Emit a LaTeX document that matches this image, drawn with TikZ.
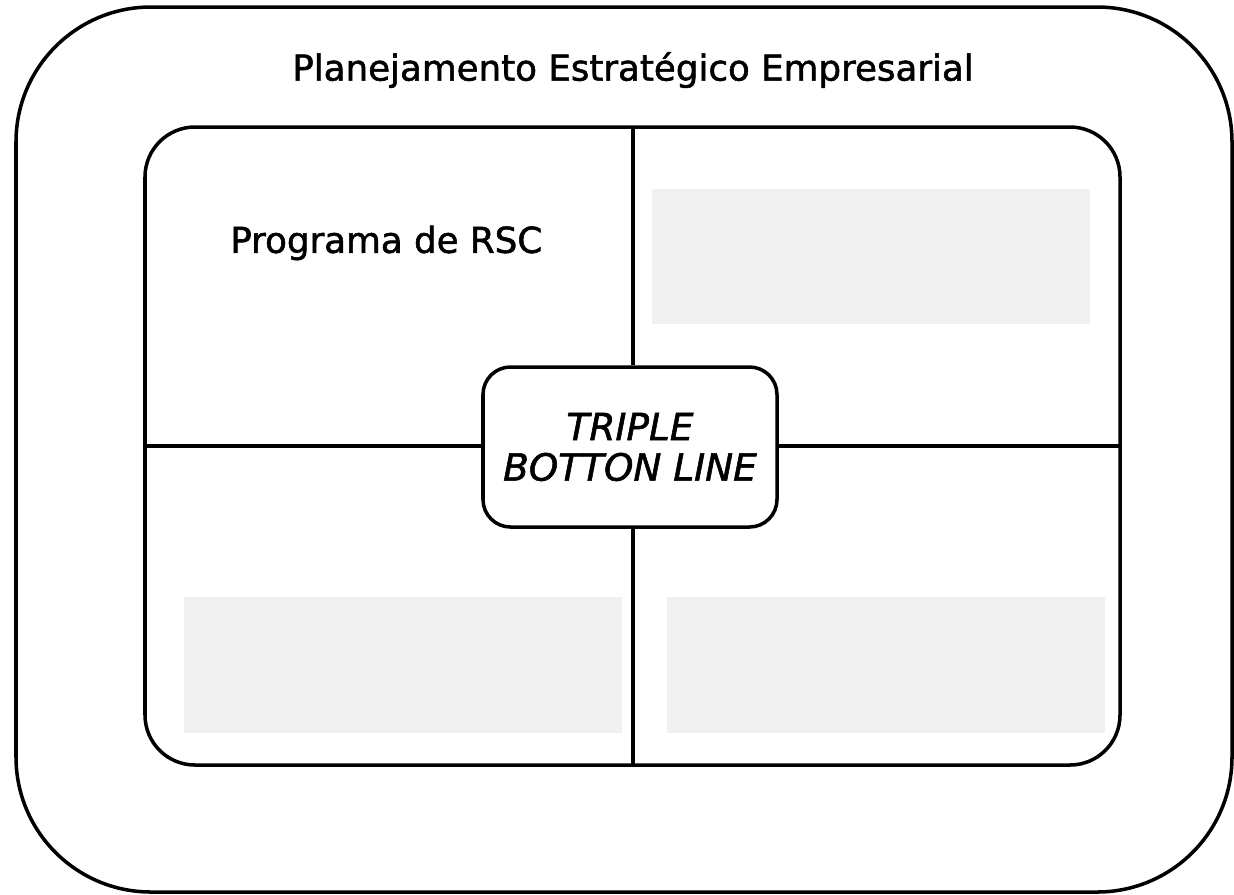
\documentclass[tikz,border=0pt]{standalone}
\usepackage{fontspec}
\setmainfont{DejaVu Sans}[FakeBold=1.5]
\begin{document}
\begin{tikzpicture}[x=0.02cm,y=-0.02cm,
  frame/.style={draw=black,line width=2pt},
  greybox/.style={fill=black!6,draw=none},
  lbl/.style={font=\fontsize{20.3}{24}\selectfont,inner sep=0pt}]
\useasboundingbox (0,0) rectangle (1234,894);
\draw[frame,rounded corners=2.7cm] (16,7) rectangle (1232,892);
\draw[frame,rounded corners=1cm] (145,127) rectangle (1120,765);
\fill[greybox] (652,189) rectangle (1090,324);
\fill[greybox] (184,597) rectangle (622,733);
\fill[greybox] (667,597) rectangle (1105,733);
\node[frame,rounded corners=0.55cm,fill=white,minimum width=294*0.02cm,minimum height=160*0.02cm,
  align=center,font=\fontsize{21.3}{23}\selectfont\itshape,inner sep=0pt] (tbl) at (630,447)
  {TRIPLE\\BOTTON LINE};
\coordinate (nt) at (633,127);
\coordinate (nb) at (633,765);
\coordinate (wl) at (145,446);
\coordinate (er) at (1120,446);
\draw[frame] (nt) -- (nt |- tbl.north);
\draw[frame] (nb) -- (nb |- tbl.south);
\draw[frame] (wl) -- (wl -| tbl.west);
\draw[frame] (er) -- (er -| tbl.east);
\node[lbl] (title) at (633,70) {Planejamento Estratégico Empresarial};
\node[lbl,anchor=west] (rsc) at (230,243) {Programa de RSC};
\end{tikzpicture}
\end{document}
